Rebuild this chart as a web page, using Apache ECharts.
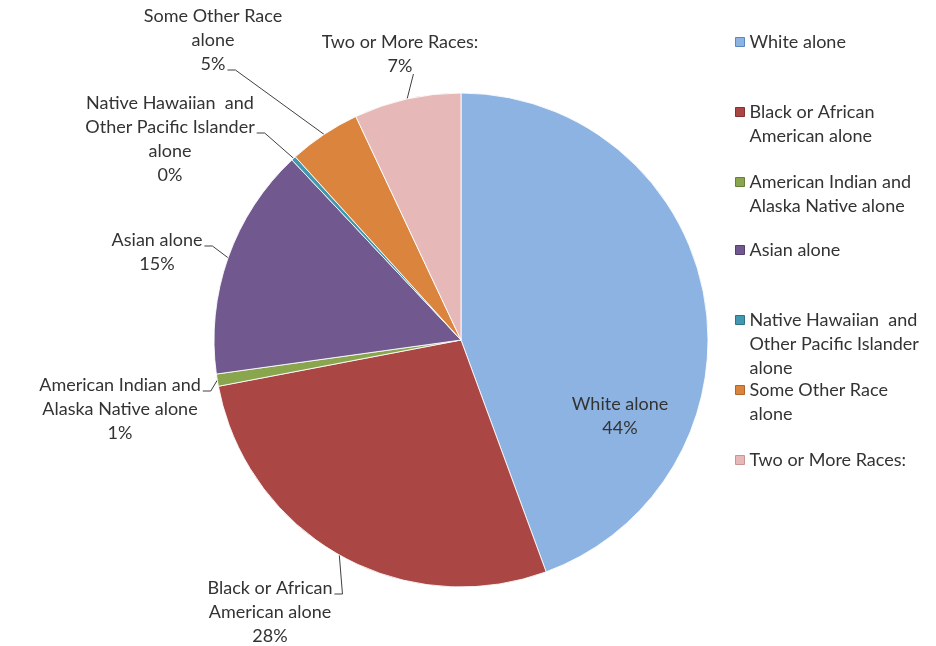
<!DOCTYPE html>
<html>
<head>
<meta charset="utf-8">
<script src="https://cdn.jsdelivr.net/npm/echarts@6/dist/echarts.min.js"></script>
<style>
  html, body { margin: 0; padding: 0; background: #fff; }
  #chart { width: 936px; height: 646px; }
</style>
</head>
<body>
<div id="chart"></div>
<script>
// Population by race (share of total, %)
const categories = [
  'White alone',
  'Black or African American alone',
  'American Indian and Alaska Native alone',
  'Asian alone',
  'Native Hawaiian and Other Pacific Islander alone',
  'Some Other Race alone',
  'Two or More Races:'
];
const shares = [44.4, 27.6, 0.8, 15.2, 0.3, 4.7, 7.0];
// Wrapped text used for slice labels and legend entries
const wrappedNames = [
  'White alone',
  'Black or African\nAmerican alone',
  'American Indian and\nAlaska Native alone',
  'Asian alone',
  'Native Hawaiian  and\nOther Pacific Islander\nalone',
  'Some Other Race\nalone',
  'Two or More Races:'
];
const colors = ['#8DB3E2', '#AA4643', '#89A54E', '#71588F', '#4198AF', '#DB843D', '#E6B9B8'];
const edgeColors = ['#5B87C0', '#833230', '#66803A', '#53406C', '#2E7489', '#B2652A', '#C99594'];

const FONT = 'Lato';
const FS = 18;
const TEXT = '#333333';
const LH = 24;

// Where each slice label sits (centre x, middle y of the text block)
const labelSpots = [
  [620, 416], [270, 612], [120, 409], [157, 252], [170, 139], [213, 40], [400, 54]
];
// Which text line the leader line leaves from, and from which side
const leaderFrom = [null, [0, 'right'], [0, 'right'], [0, 'right'], [1, 'right'], [2, 'right'], [1, 'below']];
// Legend rows: y of the first text line of each entry
const legendRows = [42, 112, 182, 250, 320, 390, 460];

const measureCtx = document.createElement('canvas').getContext('2d');
measureCtx.font = FS + 'px ' + FONT;
const textWidth = (s) => measureCtx.measureText(s).width;

const wrapOf = {};
categories.forEach((c, i) => { wrapOf[c] = wrappedNames[i]; });

// One legend block per entry; blank lines ahead of the text keep the
// marker level with the first line of a wrapped entry.
const legends = categories.map((name, i) => {
  const n = wrappedNames[i].split('\n').length;
  return {
    data: [name],
    orient: 'vertical',
    left: 735,
    top: legendRows[i] - (2 * n - 1) * LH / 2,
    padding: 0,
    itemWidth: 9,
    itemHeight: 9,
    icon: 'rect',
    selectedMode: false,
    itemStyle: { borderColor: edgeColors[i], borderWidth: 1 },
    formatter: (nm) => '\n'.repeat(n - 1) + wrapOf[nm],
    textStyle: { fontFamily: FONT, fontSize: FS, color: TEXT, lineHeight: LH }
  };
});

// Place a label and route its leader line: a short stub beside the chosen
// text line, then straight to the slice's mid-angle point on the rim.
function layoutLabel(p) {
  const i = p.dataIndex;
  const [cx, cy] = labelSpots[i];
  const out = { x: cx, y: cy, align: 'center', verticalAlign: 'middle' };
  const from = leaderFrom[i];
  if (from && p.labelLinePoints) {
    const lines = p.text.split('\n');
    const lineY = cy - (lines.length - 1) * LH / 2 + from[0] * LH;
    const right = cx + textWidth(lines[from[0]]) / 2;
    const rim = p.labelLinePoints[0];
    if (from[1] === 'right') {
      out.labelLinePoints = [rim, [right + 10, lineY + 6], [right + 2, lineY + 6]];
    } else {
      const start = [right + 1, lineY + 8];
      out.labelLinePoints = [rim, start, start];
    }
  }
  return out;
}

const chart = echarts.init(document.getElementById('chart'), null, { renderer: 'canvas' });
chart.setOption({
  backgroundColor: '#ffffff',
  animation: false,
  color: colors,
  legend: legends,
  series: [{
    type: 'pie',
    center: [461, 340],
    radius: 247,
    startAngle: 90,
    clockwise: true,
    avoidLabelOverlap: false,
    percentPrecision: 0,
    itemStyle: { borderColor: 'rgba(255,255,255,0.85)', borderWidth: 1 },
    label: {
      show: true,
      position: 'outside',
      fontFamily: FONT, fontSize: FS, color: TEXT,
      lineHeight: LH,
      align: 'center',
      formatter: (p) => wrappedNames[p.dataIndex] + '\n' + p.percent + '%'
    },
    labelLine: {
      show: true, smooth: false, length: 10, length2: 8,
      lineStyle: { color: '#404040', width: 1 }
    },
    labelLayout: layoutLabel,
    emphasis: { disabled: true },
    data: categories.map((name, i) => {
      const d = { name, value: shares[i] };
      if (i === 0) {
        d.label = { position: 'inside' };
        d.labelLine = { show: false };
      }
      return d;
    })
  }]
});
</script>
</body>
</html>
